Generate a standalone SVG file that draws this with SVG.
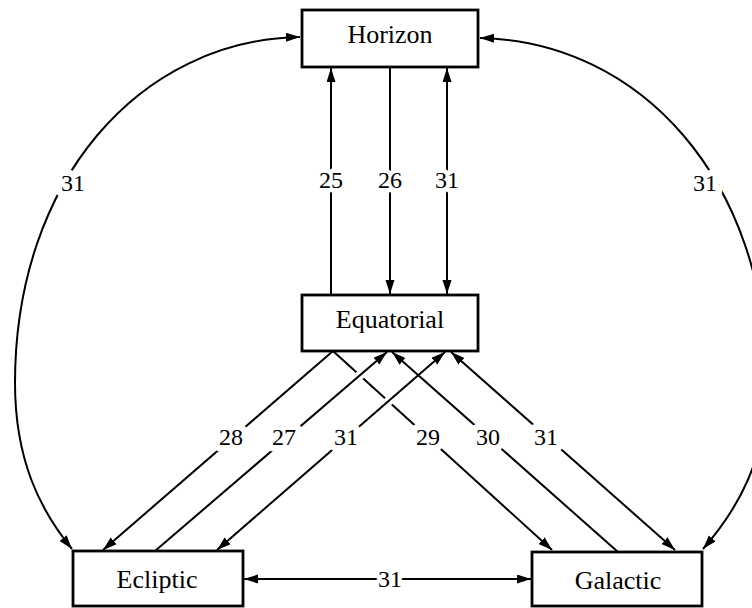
<svg xmlns="http://www.w3.org/2000/svg" width="752" height="608" viewBox="0 0 752 608">
<defs>
<marker id="ah" markerUnits="userSpaceOnUse" markerWidth="15" markerHeight="10" refX="14" refY="4.5" orient="auto-start-reverse">
<path d="M0,0 L14,4.5 L0,9 Z" fill="#000"/>
</marker>
<style>
.ln{fill:none;stroke:#000;stroke-width:2}
.end{marker-end:url(#ah)}
.both{marker-start:url(#ah);marker-end:url(#ah)}
.under{fill:none;stroke:#fff;stroke-width:9}
.box{fill:#fff;stroke:#000;stroke-width:2.8}
.nt{font-family:"Liberation Serif","Times New Roman",serif;font-size:26px;text-anchor:middle;fill:#000}
.lb{font-family:"Liberation Serif","Times New Roman",serif;font-size:24px;text-anchor:middle;fill:#000;stroke:#fff;stroke-width:9;stroke-linejoin:round;paint-order:stroke}
.wide{stroke-width:13}
</style>
</defs>
<rect width="752" height="608" fill="#fff"/>
<g id="connectors">
<path class="ln end" d="M333,351 L552,550"/>
<path class="under" d="M155,551 L387,352"/>
<path class="under" d="M217,551 L445,352"/>
<path class="ln end" d="M331,295 L331,68"/>
<path class="ln end" d="M390,67 L390,294"/>
<path class="ln both" d="M447,68 L447,294"/>
<path class="ln end" d="M333,351 L103,550"/>
<path class="ln end" d="M155,551 L387,352"/>
<path class="ln both" d="M217,550 L445,352"/>
<path class="ln end" d="M618,552 L392,352"/>
<path class="ln both" d="M675,550 L451,352"/>
<path class="ln both" d="M72,549 C40,510 15,460 15,383 C15,180 140,40 300,37"/>
<path class="ln both" d="M480,38 C640,41 767,180 767,383 C767,460 737,510 703,549"/>
<path class="ln both" d="M244,579 L531,579"/>
<text class="lb" x="331" y="188">25</text>
<text class="lb" x="390" y="188">26</text>
<text class="lb" x="447" y="188">31</text>
<text class="lb wide" x="231" y="445">28</text>
<text class="lb wide" x="284" y="445">27</text>
<text class="lb wide" x="346" y="445">31</text>
<text class="lb wide" x="428" y="445">29</text>
<text class="lb wide" x="488" y="445">30</text>
<text class="lb wide" x="546" y="445">31</text>
<text class="lb wide" x="73" y="191">31</text>
<text class="lb wide" x="705" y="191">31</text>
<text class="lb" x="390" y="587">31</text>
</g>
<g id="horizon">
<rect class="box" x="302" y="10" width="176" height="57"/>
<text class="nt" x="390" y="43">Horizon</text>
</g>
<g id="equatorial">
<rect class="box" x="302" y="295" width="176" height="56"/>
<text class="nt" x="390" y="328">Equatorial</text>
</g>
<g id="ecliptic">
<rect class="box" x="73" y="551" width="170" height="55"/>
<text class="nt" x="157" y="588">Ecliptic</text>
</g>
<g id="galactic">
<rect class="box" x="532" y="552" width="170" height="54"/>
<text class="nt" x="618" y="589">Galactic</text>
</g>
</svg>
